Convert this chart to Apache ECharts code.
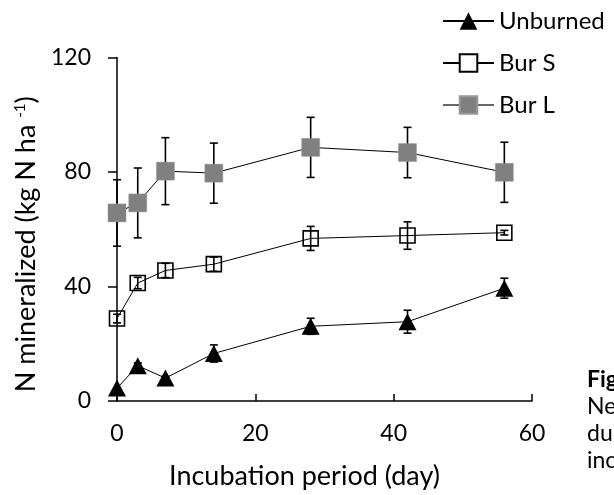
<!DOCTYPE html>
<html><head><meta charset="utf-8">
<script src="https://cdn.jsdelivr.net/npm/echarts@6/dist/echarts.min.js"></script>
<style>html,body{margin:0;padding:0;background:#fff}#c{width:614px;height:495px}</style>
</head><body><div id="c"></div>
<script>
// Data
const days = [0, 3, 7, 14, 28, 42, 56];
const seriesNames = ['Unburned', 'Bur S', 'Bur L'];
const unburned = [4.5, 12.3, 8.0, 16.6, 26.1, 27.7, 39.4];
const unburnedErr = [0, 1.0, 0.6, 3.0, 2.8, 4.0, 3.5];
const burS = [28.8, 41.2, 45.6, 47.8, 56.8, 57.8, 58.8];
const burSErr = [1.5, 2.0, 2.5, 2.5, 4.2, 4.8, 0.8];
const burL = [65.7, 69.2, 80.3, 79.6, 88.6, 86.8, 79.9];
const burLErr = [11.6, 12.2, 11.7, 10.5, 10.5, 8.8, 10.5];
const xAxisTitle = 'Incubation period (day)';
const yAxisTitle = 'N mineralized (kg N ha {sup|-1})';
const captionLines = ['Fig', 'Ne', 'du', 'inc'];

const FONT = 'Lato, Carlito, Calibri, sans-serif';

function pts(vals) { return days.map((d, i) => [d, vals[i]]); }
function errData(vals, errs) { return days.map((d, i) => [d, vals[i] - errs[i], vals[i] + errs[i]]); }

function errRender(params, api) {
  const x = api.value(0), lo = api.value(1), hi = api.value(2);
  if (!(hi - lo > 0.01)) return null;
  const a = api.coord([x, hi]), b = api.coord([x, lo]);
  const w = 4;
  const st = { stroke: '#000', lineWidth: 1.6, fill: null };
  return {
    type: 'group',
    children: [
      { type: 'line', shape: { x1: a[0], y1: a[1], x2: b[0], y2: b[1] }, style: st },
      { type: 'line', shape: { x1: a[0] - w, y1: a[1], x2: a[0] + w, y2: a[1] }, style: st },
      { type: 'line', shape: { x1: b[0] - w, y1: b[1], x2: b[0] + w, y2: b[1] }, style: st }
    ]
  };
}

const chart = echarts.init(document.getElementById('c'), null, { renderer: 'canvas' });
const captionGraphics = captionLines.map((t, i) => ({
  type: 'text', left: 587, top: 368 + i * 27,
  style: { text: t, font: (i === 0 ? 'bold ' : '') + '23px ' + FONT, fill: '#000' }
}));

chart.setOption({
  backgroundColor: '#fff',
  animation: false,
  textStyle: { fontFamily: FONT },
  grid: { left: 117, right: 82, top: 57.5, bottom: 91 },
  legend: {
    orient: 'vertical', left: 442, top: 8, padding: 0,
    itemWidth: 51, itemHeight: 22, itemGap: 16,
    textStyle: { fontSize: 24, color: '#000', fontFamily: FONT, lineHeight: 26 },
    data: [
      { name: 'Unburned' },
      { name: 'Bur S', itemStyle: { color: '#fff' } },
      { name: 'Bur L', lineStyle: { color: '#666' } }
    ]
  },
  xAxis: {
    type: 'value', min: 0, max: 60, interval: 20,
    name: xAxisTitle, nameLocation: 'middle', nameGap: 62,
    nameTextStyle: { fontSize: 27, color: '#000', fontFamily: FONT, padding: [0, 40, 0, 0] },
    axisLine: { lineStyle: { color: '#000', width: 1.5 } },
    axisTick: { inside: true, length: 7, lineStyle: { color: '#000', width: 1.5 } },
    axisLabel: { fontSize: 23, color: '#000', margin: 21, fontFamily: FONT },
    splitLine: { show: false }
  },
  yAxis: {
    type: 'value', min: 0, max: 120, interval: 40,
    name: yAxisTitle, nameLocation: 'middle', nameGap: 73,
    nameTextStyle: {
      fontSize: 27, color: '#000', fontFamily: FONT, padding: [0, 30, 0, 0],
      rich: { sup: { fontSize: 15, verticalAlign: 'top', color: '#000', fontFamily: FONT } }
    },
    axisLine: { lineStyle: { color: '#000', width: 1.5 } },
    axisTick: { inside: false, length: 9, lineStyle: { color: '#000', width: 1.5 } },
    axisLabel: { fontSize: 23, color: '#000', margin: 26, fontFamily: FONT },
    splitLine: { show: false }
  },
  graphic: captionGraphics,
  series: [
    { type: 'custom', renderItem: errRender, data: errData(burL, burLErr), encode: { x: 0, y: [1, 2] }, z: 1, silent: true },
    { type: 'custom', renderItem: errRender, data: errData(burS, burSErr), encode: { x: 0, y: [1, 2] }, z: 1, silent: true },
    { type: 'custom', renderItem: errRender, data: errData(unburned, unburnedErr), encode: { x: 0, y: [1, 2] }, z: 1, silent: true },
    {
      name: 'Unburned', type: 'line', data: pts(unburned), clip: false, z: 3,
      symbol: 'triangle', symbolSize: [18, 17],
      lineStyle: { color: '#000', width: 1 },
      itemStyle: { color: '#000' }
    },
    {
      name: 'Bur S', type: 'line', data: pts(burS), clip: false, z: 3,
      symbol: 'rect', symbolSize: 15,
      lineStyle: { color: '#000', width: 1 },
      itemStyle: { color: 'rgba(255,255,255,0)', borderColor: '#000', borderWidth: 1.6 }
    },
    {
      name: 'Bur L', type: 'line', data: pts(burL), clip: false, z: 3,
      symbol: 'rect', symbolSize: 18,
      lineStyle: { color: '#000', width: 1 },
      itemStyle: { color: '#808080', borderColor: '#999', borderWidth: 0.5 }
    }
  ]
});
</script></body></html>
